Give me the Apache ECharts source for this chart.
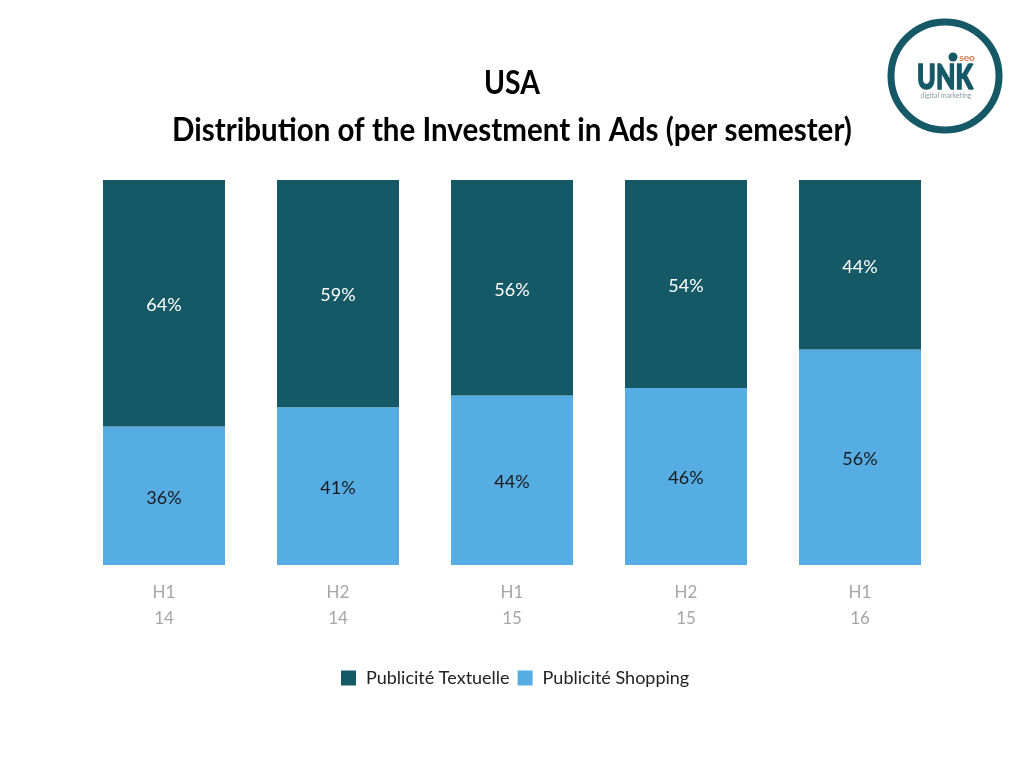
<!DOCTYPE html>
<html>
<head>
<meta charset="utf-8">
<script src="https://cdn.jsdelivr.net/npm/echarts@6/dist/echarts.min.js"></script>
<style>
html, body { margin: 0; padding: 0; background: #fff; }
#main { width: 1024px; height: 768px; }
</style>
</head>
<body>
<div id="main"></div>
<script>
var font = 'Lato, sans-serif';
var periods = ['H1\n14', 'H2\n14', 'H1\n15', 'H2\n15', 'H1\n16'];
var shopping = [36, 41, 44, 46, 56];
var textuelle = [64, 59, 56, 54, 44];

var chart = echarts.init(document.getElementById('main'));
chart.setOption({
    animation: false,
    backgroundColor: '#fff',
    legend: {
        data: ['Publicité Textuelle', 'Publicité Shopping'],
        left: 336,
        top: 664,
        itemWidth: 15,
        itemHeight: 15,
        itemGap: 8,
        icon: 'rect',
        textStyle: { fontFamily: font, fontSize: 18, color: '#222', padding: [0, 0, 0, 5] }
    },
    grid: { left: 77, right: 77, top: 180, bottom: 203 },
    xAxis: {
        type: 'category',
        data: periods,
        axisLine: { show: false },
        axisTick: { show: false },
        axisLabel: { fontFamily: font, fontSize: 17, color: '#a6a6a6', lineHeight: 26, margin: 15 }
    },
    yAxis: { type: 'value', min: 0, max: 100, show: false },
    series: [
        {
            name: 'Publicité Shopping',
            type: 'bar',
            stack: 'total',
            barWidth: 122,
            data: shopping,
            itemStyle: { color: '#56ade4' },
            label: { show: true, position: 'inside', offset: [0, 2], formatter: '{c}%', fontFamily: font, fontSize: 18, color: '#1a1a1a' }
        },
        {
            name: 'Publicité Textuelle',
            type: 'bar',
            stack: 'total',
            barWidth: 122,
            data: textuelle,
            itemStyle: { color: '#165966' },
            label: { show: true, position: 'inside', offset: [0, 2], formatter: '{c}%', fontFamily: font, fontSize: 18, color: '#fff' }
        }
    ],
    graphic: [
        // title, squeezed because the original face is a narrow one
        { type: 'text', x: 512, y: 83, scaleX: 0.86, style: { text: 'USA', align: 'center', verticalAlign: 'middle', fill: '#000', font: 'bold 33px Lato, sans-serif' } },
        { type: 'text', x: 512, y: 130, scaleX: 0.895, style: { text: 'Distribution of the Investment in Ads (per semester)', align: 'center', verticalAlign: 'middle', fill: '#000', font: 'bold 33px Lato, sans-serif' } },
        // logo
        { type: 'circle', shape: { cx: 945, cy: 76, r: 54 }, style: { fill: '#fff', stroke: '#165966', lineWidth: 7 } },
        { type: 'circle', shape: { cx: 953, cy: 57, r: 4.5 }, style: { fill: '#165966' } },
        { type: 'text', x: 945, y: 78, scaleX: 0.72, style: { text: 'UNK', align: 'center', verticalAlign: 'middle', fill: '#165966', stroke: '#165966', lineWidth: 1.5, font: '900 35px Lato, sans-serif' } },
        { type: 'text', x: 967, y: 58, style: { text: 'seo', align: 'center', verticalAlign: 'middle', fill: '#d9764a', font: 'bold 10px Lato, sans-serif' } },
        { type: 'text', x: 946, y: 96, style: { text: 'digital marketing', align: 'center', verticalAlign: 'middle', fill: '#8a9a9e', font: '7px Lato, sans-serif' } }
    ]
});
</script>
</body>
</html>
